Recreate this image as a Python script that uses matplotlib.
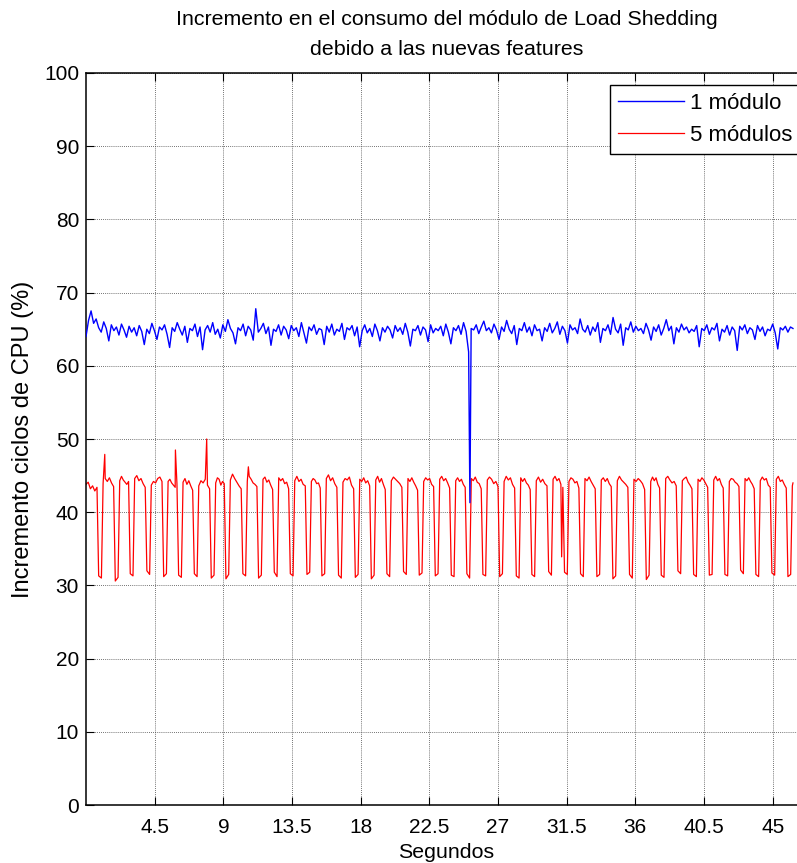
# -*- coding: utf-8 -*-
"""
Incremento en el consumo del modulo de Load Shedding (1 vs 5 modulos)
"""
import numpy as np
import matplotlib
matplotlib.use("Agg")
import matplotlib.pyplot as plt

plt.rcParams['font.family'] = ['Liberation Sans', 'DejaVu Sans']

# ---- data ----
t_end = 46.33

# 1 modulo: samples spread evenly over the record
blue_vals = [
    64.0, 66.2, 67.5, 65.8, 66.4, 65.2, 64.6, 66.0, 65.1, 63.4, 65.6, 64.8, 65.3, 64.2, 65.7, 64.9, 63.9, 65.4, 64.6, 65.2,
    64.1, 65.5, 64.7, 62.9, 65.0, 64.4, 65.8, 64.8, 63.6, 65.3, 64.9, 65.6, 64.3, 62.5, 65.2, 64.7, 65.9, 65.0, 64.2, 65.4,
    63.2, 65.1, 64.8, 65.7, 64.0, 65.3, 62.2, 64.9, 65.5, 64.6, 65.9, 64.3, 65.0, 63.8, 65.6, 64.7, 66.3, 65.1, 64.5, 63.0,
    65.2, 64.8, 65.7, 64.1, 65.4, 64.9, 63.5, 67.8, 64.6, 65.1, 65.8, 64.4, 65.3, 62.8, 65.0, 64.7, 65.6, 64.2, 65.4, 64.9,
    63.7, 65.5, 64.8, 65.2, 64.0, 65.9, 64.5, 63.1, 65.3, 64.8, 65.6, 64.3, 65.1, 64.9, 62.9, 65.4, 64.6, 65.7, 64.2, 65.0,
    64.7, 65.8, 63.6, 65.2, 64.9, 65.5, 64.1, 65.3, 62.6, 64.8, 65.6, 64.5, 65.1, 64.0, 65.7, 64.8, 63.4, 65.2, 64.6, 65.4,
    64.9, 63.8, 65.5, 64.7, 65.2, 64.3, 65.8, 64.6, 62.7, 65.0, 64.8, 65.5, 64.2, 65.3, 64.9, 63.3, 65.6, 64.5, 65.1, 64.8,
    65.4, 64.1, 65.7, 64.6, 63.0, 65.2, 64.8, 65.5, 64.3, 65.9, 64.7, 61.9, 65.1, 64.9, 65.6, 64.4, 65.3, 66.1, 64.8, 65.2,
    64.5, 65.7, 64.9, 63.6, 65.3, 64.7, 66.2, 65.0, 64.4, 65.5, 62.9, 65.1, 64.8, 65.9, 64.6, 65.3, 64.1, 65.6, 64.8, 65.0,
    63.4, 65.2, 64.7, 65.8, 64.5, 65.1, 66.0, 64.3, 65.4, 64.8, 63.1, 65.6, 64.9, 65.2, 64.4, 66.4, 65.0, 64.6, 65.5, 64.2,
    65.3, 64.7, 65.9, 63.2, 65.1, 64.8, 65.6, 64.3, 66.6, 65.0, 64.5, 65.7, 62.8, 65.2, 64.9, 66.0, 64.6, 65.4, 64.8, 65.1,
    64.4, 65.8, 64.9, 63.5, 65.3, 64.7, 65.6, 64.2, 65.1, 66.3, 64.8, 65.4, 63.0, 65.2, 64.6, 65.7, 64.9, 65.3, 64.5, 65.0,
    64.7, 65.5, 62.6, 65.1, 64.8, 65.6, 64.3, 65.2, 64.9, 65.8, 63.4, 65.0, 64.6, 65.5, 64.2, 65.3, 64.8, 62.1, 65.4, 64.9,
    65.6, 64.4, 65.2, 64.9, 63.6, 65.5, 64.7, 65.3, 64.1, 65.0, 64.8, 65.7, 64.5, 62.3, 65.2, 64.9, 65.4, 64.6, 65.3, 65.1,
]
blue_spike_t = [25.16]
blue_spike_v = [41.3]

# 5 modulos: centre of every dip, and the low levels reached
red_dips = [0.92, 2.01, 2.99, 4.08, 5.18, 6.16, 7.19, 8.30, 9.26, 10.37, 11.40,
            12.43, 13.48, 14.57, 15.55, 16.64, 17.74, 18.79, 19.81, 20.90, 21.93, 22.98,
            24.03, 25.05, 26.10, 27.20, 28.29, 29.31, 30.41, 31.45, 32.50, 33.57, 34.62,
            35.71, 36.81, 37.79, 38.88, 39.91, 40.94, 41.96, 42.99, 43.99, 45.04, 46.09]
red_low_a = [31.3, 30.6, 31.6, 32.0, 31.2, 31.4, 31.6, 31.0, 30.9, 31.6, 31.0,
             31.8, 31.6, 31.5, 31.3, 31.4, 31.1, 30.9, 31.6, 31.9, 31.4, 31.3,
             31.4, 31.6, 31.5, 31.2, 31.3, 31.5, 31.9, 31.8, 31.6, 31.2, 30.9,
             31.5, 30.8, 31.4, 32.0, 31.5, 31.4, 31.5, 32.1, 31.5, 31.7, 31.2]
red_low_b = [31.0, 31.1, 31.3, 31.5, 31.6, 31.1, 31.2, 31.4, 31.5, 31.3, 31.4,
             31.2, 31.3, 31.8, 31.6, 31.0, 31.5, 31.4, 31.2, 31.5, 31.7, 31.6,
             31.2, 31.0, 31.3, 31.6, 31.0, 31.2, 31.4, 31.5, 31.2, 31.5, 31.3,
             31.0, 31.4, 31.1, 31.6, 31.2, 31.5, 31.3, 31.6, 31.2, 31.4, 31.5]
# plateau samples before each dip (last row: after the last dip)
red_high = [
    [43.8, 44.1, 43.2, 43.6, 42.9, 43.4],
    [43.9, 44.6, 44.2, 44.7, 44.0, 43.5],
    [44.3, 44.9, 44.4, 44.1, 43.8, 44.2],
    [44.6, 45.0, 44.3, 44.6, 43.9, 43.4],
    [43.7, 44.2, 44.0, 44.6, 44.8, 44.2],
    [44.2, 44.5, 44.0, 43.7, 43.4, 43.9],
    [44.1, 44.6, 43.8, 44.3, 43.6, 43.0],
    [43.6, 44.3, 44.0, 44.5, 43.7, 43.2],
    [44.0, 44.7, 44.5, 43.7, 44.2, 43.9],
    [44.4, 45.2, 44.6, 44.1, 43.6, 43.2],
    [44.2, 44.9, 44.5, 44.0, 43.8, 43.5],
    [44.5, 44.8, 44.1, 44.4, 43.7, 43.1],
    [44.7, 44.3, 44.6, 43.9, 44.1, 43.2],
    [44.3, 44.9, 44.2, 44.5, 43.8, 43.6],
    [44.2, 44.6, 44.4, 43.9, 44.0, 43.3],
    [44.6, 45.1, 44.3, 44.7, 43.9, 43.4],
    [44.1, 44.6, 44.4, 44.8, 43.7, 43.2],
    [44.5, 44.2, 44.7, 44.0, 44.3, 43.6],
    [44.4, 44.9, 44.1, 44.6, 43.8, 43.1],
    [44.3, 44.8, 44.5, 44.2, 43.9, 43.4],
    [44.6, 44.2, 44.7, 44.1, 43.6, 43.0],
    [44.2, 44.7, 44.4, 44.6, 43.8, 43.5],
    [44.5, 44.9, 44.3, 44.6, 44.0, 43.3],
    [44.3, 44.7, 44.2, 44.5, 43.8, 43.4],
    [44.6, 44.3, 44.8, 44.1, 43.9, 43.2],
    [44.4, 44.8, 44.5, 43.9, 44.2, 43.5],
    [44.2, 44.9, 44.4, 44.7, 43.8, 43.3],
    [44.7, 44.2, 44.6, 44.0, 43.7, 43.1],
    [44.3, 44.8, 44.1, 44.5, 43.9, 43.6],
    [44.5, 44.9, 44.3, 44.6, 43.8, 43.4],
    [44.2, 44.7, 44.5, 44.0, 44.2, 43.3],
    [44.6, 44.3, 44.8, 44.2, 43.7, 43.2],
    [44.4, 44.7, 44.2, 44.6, 43.9, 43.5],
    [44.3, 44.9, 44.4, 44.1, 43.8, 43.4],
    [44.5, 44.2, 44.6, 44.3, 43.9, 43.1],
    [44.2, 44.8, 44.3, 44.7, 43.8, 43.3],
    [44.6, 44.9, 44.4, 44.0, 44.2, 43.6],
    [44.3, 44.6, 44.8, 44.1, 43.7, 43.2],
    [44.5, 44.2, 44.7, 44.4, 43.9, 43.4],
    [44.4, 44.9, 44.3, 44.6, 43.8, 43.3],
    [44.2, 44.6, 44.5, 44.1, 43.9, 43.5],
    [44.6, 44.3, 44.7, 44.2, 43.8, 43.2],
    [44.3, 44.8, 44.4, 44.6, 43.7, 43.4],
    [44.5, 44.9, 44.2, 44.4, 43.8, 43.3],
    [43.6, 44.0],
]
red_spike_t = [1.23, 5.86, 7.91, 10.64, 31.17]
red_spike_v = [47.9, 48.5, 50.0, 46.2, 33.9]

xticks = [4.5, 9, 13.5, 18, 22.5, 27, 31.5, 36, 40.5, 45]
xlabels = ['4.5', '9', '13.5', '18', '22.5', '27', '31.5', '36', '40.5', '45']
yticks = list(range(0, 101, 10))

# ---- build the lines ----
bt = np.concatenate([np.linspace(0, t_end, len(blue_vals)), blue_spike_t])
bv = np.concatenate([blue_vals, blue_spike_v])
order = np.argsort(bt)
bt, bv = bt[order], bv[order]

rt, rv = [], []
for i, c in enumerate(red_dips):
    start = 0.0 if i == 0 else red_dips[i - 1] + 0.2
    seg = red_high[i]
    rt.extend(np.linspace(start, c - 0.2, len(seg)))
    rv.extend(seg)
    rt.extend([c - 0.09, c + 0.09])
    rv.extend([red_low_a[i], red_low_b[i]])
seg = red_high[-1]
rt.extend(np.linspace(red_dips[-1] + 0.2, t_end, len(seg)))
rv.extend(seg)
rt = np.concatenate([rt, red_spike_t])
rv = np.concatenate([rv, red_spike_v])
order = np.argsort(rt, kind='stable')
rt, rv = rt[order], rv[order]

# ---- figure ----
fig = plt.figure(figsize=(7.97, 8.63), dpi=100)
ax = fig.add_axes([86 / 797, 58 / 863, 721 / 797, 732 / 863])

ax.plot(bt, bv, color='#0000ff', lw=1.0, label='1 módulo', zorder=3)
ax.plot(rt, rv, color='#ff0000', lw=0.9, label='5 módulos', zorder=2)

ax.set_xlim(0, 47.25)
ax.set_ylim(0, 100)
ax.set_xticks(xticks)
ax.set_xticklabels(xlabels)
ax.set_yticks(yticks)
ax.tick_params(direction='in', top=True, right=True, length=5.5, width=0.8,
               labelsize=15)
ax.tick_params(axis='x', pad=9)
ax.tick_params(axis='y', pad=5)
ax.grid(True, color='#444444', linestyle=(0, (1, 1.5)), lw=0.6)
for s in ax.spines.values():
    s.set_linewidth(1.1)

ax.set_xlabel('Segundos', fontsize=15.4, labelpad=5)
ax.set_ylabel('Incremento ciclos de CPU (%)', fontsize=17, labelpad=7)
ax.set_title('Incremento en el consumo del módulo de Load Shedding\ndebido a las nuevas features',
             fontsize=15.4, pad=13, linespacing=1.7)

leg = ax.legend(loc='upper right', bbox_to_anchor=(800 / 797, 1 - 85 / 863),
                bbox_transform=fig.transFigure, borderaxespad=0, fontsize=16,
                fancybox=False, framealpha=1, edgecolor='black',
                handlelength=3.0, handletextpad=0.25, labelspacing=0.5,
                borderpad=0.35)
leg.get_frame().set_linewidth(1.0)

plt.savefig('out.png', dpi=100)
